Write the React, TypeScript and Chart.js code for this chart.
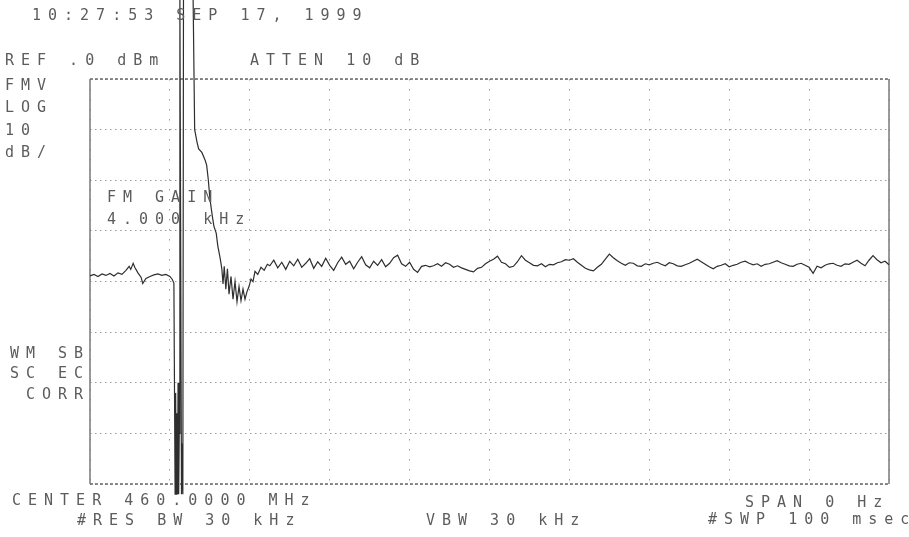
import React, { useEffect, useRef } from "react";
import { Chart, registerables } from "chart.js";

Chart.register(...registerables);

// Zero-span sweep: time (ms) across 10 divisions, level (dBm) 10 dB/div from REF 0 dBm
const sweepTimeMs = [
  0, 0.5, 1.0, 1.5, 2.0, 2.5, 3.0, 3.5, 4.0, 4.5, 4.9, 5.1, 5.4, 5.6, 6.0, 6.4, 6.6, 7.0, 7.5, 8.0,
  8.5, 9.0, 9.5, 10.0, 10.3, 10.5,
  10.65, 10.72, 10.8, 10.87, 10.95, 11.02, 11.1, 11.17, 11.25, 11.45, 11.55, 11.62, 11.7, 12.9,
  13.1, 13.4, 13.6, 14.0, 14.4, 14.6, 14.8, 15.0, 15.3, 15.5, 15.8, 16.0, 16.3, 16.5, 16.65, 16.8,
  17.0, 17.2, 17.4, 17.65, 17.9, 18.15, 18.4, 18.65, 18.9, 19.15, 19.4, 19.65, 19.9, 20.15, 20.4,
  20.65, 21.0, 21.4, 21.8, 22.2,
  22.5, 23.0, 23.5, 24.0, 24.5, 25.0, 25.5, 26.0, 26.5, 27.0, 27.5, 28.0, 28.5, 29.0, 29.5, 30.0,
  30.5, 31.0, 31.5, 32.0, 32.5, 33.0, 33.5, 34.0, 34.5, 35.0, 35.5, 36.0, 36.5, 37.0, 37.5, 38.0,
  38.5, 39.0, 39.5, 40.0, 40.5, 41.0, 41.5, 42.0, 42.5, 43.0,
  43.5, 44, 44.5, 45, 45.5, 46, 46.5, 47, 47.5, 48, 48.5, 49, 49.5, 50, 50.5, 51, 51.5, 52, 52.5,
  53, 53.5, 54, 54.5, 55, 55.5, 56, 56.5, 57, 57.5, 58, 58.5, 59, 59.5, 60, 60.5, 61, 61.5, 62,
  62.5, 63, 63.5, 64, 64.5, 65, 65.5, 66, 66.5, 67, 67.5, 68, 68.5, 69, 69.5, 70, 70.5, 71, 71.5,
  72, 72.5, 73, 73.5, 74, 74.5, 75, 75.5, 76, 76.5, 77, 77.5, 78, 78.5, 79, 79.5, 80, 80.5, 81,
  81.5, 82, 82.5, 83, 83.5, 84, 84.5, 85, 85.5, 86, 86.5, 87, 87.5, 88, 88.5, 89, 89.5, 90, 90.5,
  91, 91.5, 92, 92.5, 93, 93.5, 94, 94.5, 95, 95.5, 96, 96.5, 97, 97.5, 98, 98.5, 99, 99.5, 100,
];

const levelDbm = [
  -38.9, -38.6, -39.0, -38.5, -38.8, -38.4, -38.9, -38.3, -38.6, -37.8, -37.0, -37.6, -36.4, -37.2,
  -38.3, -39.2, -40.4, -39.4, -39.0, -38.7, -38.5, -38.8, -38.6, -39.0, -39.6, -40.3,
  -82, -62, -82, -66, -82, -60, -82, -70, 16.5, -82, -72, -82, 16.5, 16.5,
  -10, -12.5, -13.8, -14.5, -16.0, -17.0, -19.8, -23.5, -27.0, -29.0, -30.5, -33.0, -35.5, -37.5,
  -40.5, -37.0, -41.5, -37.5, -42.5, -39.0, -43.5, -40.0, -44.0, -41.0, -43.8, -41.5, -43.5, -42.0,
  -41.0, -39.5, -40.0, -38.0, -38.6, -37.2, -37.8, -36.6,
  -36.9, -35.8, -37.3, -36.2, -37.6, -36.0, -36.9, -35.6, -37.2, -36.4, -35.5, -37.4, -36.1, -37.0,
  -35.4, -36.8, -37.8, -36.3, -35.2, -36.6, -36.0, -37.5, -36.2, -35.1, -36.7, -37.3, -36.0, -36.8,
  -35.7, -37.1, -36.4, -35.3, -34.8, -36.5, -37.0, -36.2, -37.6, -38.2, -37.0, -36.8, -37.1, -36.9,
  -36.5, -37.0, -36.3, -36.6, -37.2, -36.9, -37.3, -37.6, -37.9, -38.1, -37.4, -37.2, -36.5, -36.0,
  -35.6, -35.0, -36.2, -36.5, -37.2, -37.0, -36.1, -34.9, -35.8, -36.3, -36.8, -36.9, -36.5, -37.1,
  -36.6, -36.7, -36.3, -36.1, -35.7, -35.8, -35.5, -36.2, -36.8, -37.4, -37.7, -37.9, -37.2, -36.6,
  -35.6, -34.6, -35.3, -35.9, -36.4, -36.8, -36.3, -36.4, -36.9, -37.0, -36.5, -36.7, -36.4, -36.2,
  -36.6, -36.9, -36.3, -36.5, -36.9, -37.0, -36.7, -36.4, -36.0, -35.6, -36.1, -36.6, -37.1, -37.5,
  -37.0, -36.8, -36.5, -37.1, -36.8, -36.6, -36.2, -36.0, -36.4, -36.7, -36.5, -37.0, -36.6, -36.5,
  -36.2, -35.9, -36.3, -36.6, -36.9, -37.0, -36.6, -36.4, -36.8, -37.2, -38.4, -37.0, -37.3, -36.8,
  -36.5, -36.4, -36.8, -37.0, -36.5, -36.6, -36.2, -35.8, -36.4, -36.9, -35.8, -34.9, -35.7, -36.3,
  -36.0, -36.7,
];

const sweepRangeMs = [0, 100];
const levelRangeDbm = [-80, 0];
const timePerDivMs = 10;
const dbPerDiv = 10;

const framePlugin = {
  id: "analyzerFrame",
  beforeDatasetsDraw(chart: any) {
    const { ctx, chartArea } = chart;
    const { left, right, top, bottom } = chartArea;
    ctx.save();
    ctx.strokeStyle = "#6a6a6a";
    ctx.lineWidth = 1.3;
    ctx.setLineDash([3, 2]);
    ctx.beginPath();
    ctx.moveTo(left, top);
    ctx.lineTo(right, top);
    ctx.moveTo(left, bottom);
    ctx.lineTo(right, bottom);
    ctx.stroke();
    ctx.setLineDash([]);
    ctx.strokeStyle = "#7a7a7a";
    ctx.lineWidth = 1.5;
    ctx.beginPath();
    ctx.moveTo(left, top);
    ctx.lineTo(left, bottom);
    ctx.moveTo(right, top);
    ctx.lineTo(right, bottom);
    ctx.stroke();
    ctx.restore();
  },
};

const textStyle: React.CSSProperties = {
  position: "absolute",
  fontFamily: "'DejaVu Sans Mono', monospace",
  fontSize: 15,
  lineHeight: "15px",
  letterSpacing: 7,
  color: "#5c5c5c",
  whiteSpace: "pre",
  margin: 0,
};

function Label({ x, y, children }: { x: number; y: number; children: React.ReactNode }) {
  return <div style={{ ...textStyle, left: x, top: y - 7 }}>{children}</div>;
}

export default function App() {
  const canvasRef = useRef<HTMLCanvasElement | null>(null);

  useEffect(() => {
    if (!canvasRef.current) return;
    const points = sweepTimeMs.map((t, i) => ({ x: t, y: levelDbm[i] }));
    const chart = new Chart(canvasRef.current, {
      type: "line",
      data: {
        datasets: [
          {
            data: points,
            borderColor: "#2e2e2e",
            borderWidth: 1.2,
            pointRadius: 0,
            tension: 0,
            fill: false,
            clip: false as any,
          },
        ],
      },
      plugins: [framePlugin],
      options: {
        animation: false,
        responsive: false,
        events: [],
        layout: { padding: { left: 90, right: 20, top: 79, bottom: 53 } },
        plugins: { legend: { display: false }, tooltip: { enabled: false }, title: { display: false } },
        scales: {
          x: {
            type: "linear",
            min: sweepRangeMs[0],
            max: sweepRangeMs[1],
            ticks: { display: false, stepSize: timePerDivMs },
            grid: { color: "#9a9a9a", lineWidth: 1, drawTicks: false },
            border: { display: false, dash: [1.5, 8.5] },
            afterFit: (s: any) => {
              s.height = 0;
            },
          },
          y: {
            type: "linear",
            min: levelRangeDbm[0],
            max: levelRangeDbm[1],
            ticks: { display: false, stepSize: dbPerDiv },
            grid: { color: "#9a9a9a", lineWidth: 1, drawTicks: false },
            border: { display: false, dash: [1.5, 3.5] },
            afterFit: (s: any) => {
              s.width = 0;
            },
          },
        },
      },
    });
    return () => chart.destroy();
  }, []);

  return (
    <div style={{ position: "absolute", left: 0, top: 0, width: 909, height: 537, background: "#fff", overflow: "hidden" }}>
      <canvas ref={canvasRef} width={909} height={537} style={{ position: "absolute", left: 0, top: 0, width: 909, height: 537 }} />
      <Label x={32} y={15}>10:27:53 SEP 17, 1999</Label>
      <Label x={5} y={60}>REF .0 dBm</Label>
      <Label x={250} y={60}>ATTEN 10 dB</Label>
      <Label x={5} y={85}>FMV</Label>
      <Label x={5} y={107}>LOG</Label>
      <Label x={5} y={130}>10</Label>
      <Label x={5} y={152}>dB/</Label>
      <Label x={107} y={197}>FM GAIN</Label>
      <Label x={107} y={219}>4.000 kHz</Label>
      <Label x={10} y={353}>WM SB</Label>
      <Label x={10} y={373}>SC EC</Label>
      <Label x={26} y={394}>CORR</Label>
      <Label x={12} y={500}>CENTER 460.0000 MHz</Label>
      <Label x={77} y={520}>#RES BW 30 kHz</Label>
      <Label x={426} y={520}>VBW 30 kHz</Label>
      <Label x={745} y={502}>SPAN 0 Hz</Label>
      <Label x={708} y={519}>#SWP 100 msec</Label>
    </div>
  );
}
